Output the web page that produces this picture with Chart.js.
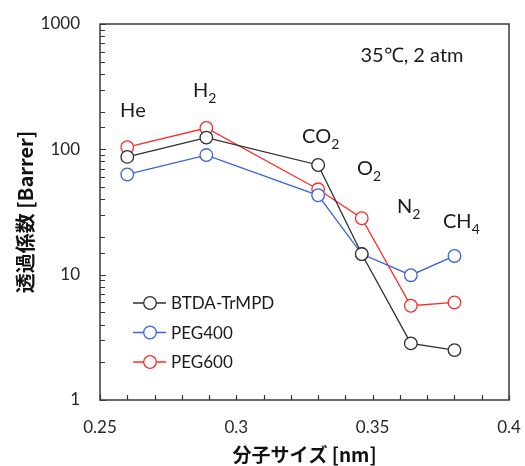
<!DOCTYPE html>
<html>
<head>
<meta charset="utf-8">
<script src="https://cdn.jsdelivr.net/npm/chart.js@4"></script>
<style>
  html, body { margin: 0; padding: 0; background: #fff; }
  #wrap { width: 525px; height: 466px; }
</style>
</head>
<body>
<div id="wrap"><canvas id="perm-chart" width="525" height="466"></canvas></div>
<script>
// kinetic diameter of each gas [nm]
const gases = ["He", "H2", "CO2", "O2", "N2", "CH4"];
const sizes = [0.260, 0.289, 0.330, 0.346, 0.364, 0.380];

// permeability [Barrer]
const btdaValues = [87, 124, 75, 14.6, 2.83, 2.5];
const peg400Values = [63, 90, 43, 14.6, 9.9, 14.1];
const peg600Values = [104, 148, 48, 28.2, 5.65, 6.0];

const seriesNames = ["BTDA-TrMPD", "PEG400", "PEG600"];
const xTickLabels = [0.25, 0.3, 0.35, 0.4];
const yTickLabels = [1, 10, 100, 1000];
const conditionText = "35℃, 2 atm";

document.addEventListener("DOMContentLoaded", () => {
  const canvas = document.getElementById("perm-chart");
  const latin = "Lato, 'Open Sans', sans-serif";
  const jp = "'Noto Sans CJK JP', sans-serif";
  const colors = ["#2e2e2e", "#3a62dc", "#ff2b2b"];

  // where the gas names sit (left x, baseline y in px)
  const gasLabelPos = [
    [120, 117], [193, 97], [302, 143], [357, 175], [397, 213], [443, 228]
  ];

  function makeSeries(name, values, color) {
    return {
      label: name,
      data: sizes.map((s, i) => ({ x: s, y: values[i] })),
      borderColor: color,
      backgroundColor: "#fff",
      borderWidth: 1.3,
      pointRadius: 6.3,
      pointBorderWidth: 1.3,
      pointBackgroundColor: "#fff",
      pointBorderColor: color,
      tension: 0,
    };
  }

  // subscript digits in formulas like CO2, CH4
  function drawFormula(ctx, text, x, y) {
    let cx = x;
    text.split("").forEach((ch) => {
      const isSub = /[0-9]/.test(ch) && cx !== x;
      ctx.font = isSub ? `14px ${latin}` : `20px ${latin}`;
      ctx.fillText(ch, cx, isSub ? y + 6 : y);
      cx += ctx.measureText(ch).width;
    });
  }

  const decorPlugin = {
    id: "decor",
    afterDraw(chart) {
      const { ctx, chartArea: a, scales } = chart;
      ctx.save();

      // inward tick marks
      ctx.strokeStyle = "#333";
      ctx.lineWidth = 1.2;
      ctx.beginPath();
      scales.y.ticks.forEach((t) => {
        const py = Math.round(scales.y.getPixelForValue(t.value)) + 0.5;
        const major = yTickLabels.includes(t.value);
        ctx.moveTo(a.left, py);
        ctx.lineTo(a.left + (major ? 6 : 5), py);
      });
      scales.x.ticks.forEach((t) => {
        const px = Math.round(scales.x.getPixelForValue(t.value)) + 0.5;
        ctx.moveTo(px, a.bottom);
        ctx.lineTo(px, a.bottom - 5);
      });
      ctx.stroke();

      // plot frame
      ctx.strokeStyle = "#3a3a3a";
      ctx.lineWidth = 1.5;
      ctx.strokeRect(a.left, a.top, a.right - a.left, a.bottom - a.top);

      // gas names
      ctx.fillStyle = "#1a1a1a";
      ctx.textBaseline = "alphabetic";
      ctx.textAlign = "left";
      gases.forEach((g, i) => drawFormula(ctx, g, gasLabelPos[i][0], gasLabelPos[i][1]));

      // measurement condition
      ctx.font = `20px ${latin}`;
      ctx.textAlign = "center";
      ctx.fillText(conditionText, 412, 62);

      // legend inside plot
      ctx.textAlign = "left";
      ctx.textBaseline = "middle";
      ctx.font = `17px ${latin}`;
      chart.data.datasets.forEach((ds, i) => {
        const ly = 303 + i * 29.5;
        ctx.strokeStyle = ds.borderColor;
        ctx.lineWidth = 1.3;
        ctx.beginPath();
        ctx.moveTo(133, ly);
        ctx.lineTo(166, ly);
        ctx.stroke();
        ctx.beginPath();
        ctx.fillStyle = "#fff";
        ctx.arc(150, ly, 6.3, 0, Math.PI * 2);
        ctx.fill();
        ctx.stroke();
        ctx.fillStyle = "#1a1a1a";
        ctx.fillText(ds.label, 171, ly + 1);
      });

      ctx.restore();
    },
  };

  new Chart(canvas, {
    type: "line",
    data: {
      datasets: [
        makeSeries(seriesNames[0], btdaValues, colors[0]),
        makeSeries(seriesNames[1], peg400Values, colors[1]),
        makeSeries(seriesNames[2], peg600Values, colors[2]),
      ],
    },
    options: {
      responsive: false,
      animation: false,
      layout: { padding: { left: 0, right: 16, top: 24, bottom: 0 } },
      plugins: {
        legend: { display: false },
        tooltip: { enabled: false },
      },
      scales: {
        x: {
          type: "linear",
          min: 0.25,
          max: 0.4,
          grid: { display: false, drawTicks: false },
          border: { display: false },
          ticks: {
            stepSize: 0.01,
            autoSkip: false,
            maxRotation: 0,
            padding: 17,
            color: "#262626",
            font: { family: latin, size: 17 },
            callback: (v) => {
              const hit = xTickLabels.find((t) => Math.abs(t - v) < 1e-6);
              return hit !== undefined ? String(hit) : "";
            },
          },
          title: {
            display: true,
            text: "分子サイズ [nm]",
            color: "#111",
            font: { family: jp, size: 19, weight: "bold" },
            padding: { top: 0, bottom: 0 },
          },
          afterFit: (s) => {
            s.height = 66;
            s.paddingLeft = 0;
            s.paddingRight = 0;
          },
        },
        y: {
          type: "logarithmic",
          min: 1,
          max: 1000,
          grid: { display: false, drawTicks: false },
          border: { display: false },
          ticks: {
            autoSkip: false,
            padding: 20,
            color: "#262626",
            font: { family: latin, size: 17 },
            callback: (v) => (yTickLabels.includes(v) ? String(v) : ""),
          },
          title: {
            display: true,
            text: "透過係数 [Barrer]",
            color: "#111",
            font: { family: jp, size: 20, weight: "bold" },
            padding: { top: 13, bottom: 0 },
          },
          afterFit: (s) => {
            s.width = 100;
            s.paddingTop = 0;
            s.paddingBottom = 0;
          },
        },
      },
    },
    plugins: [decorPlugin],
  });
});
</script>
</body>
</html>
